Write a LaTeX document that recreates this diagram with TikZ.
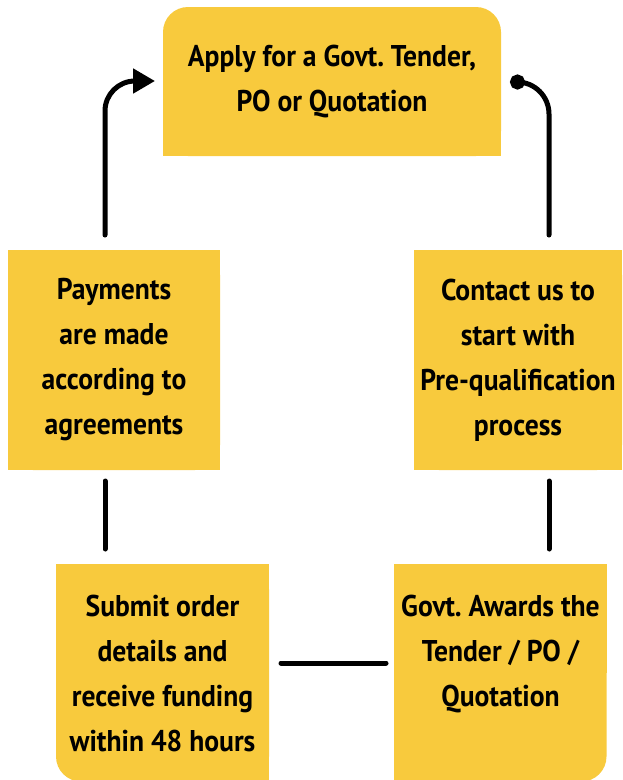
\documentclass[tikz,border=0pt]{standalone}
\usepackage{fontspec}
\setmainfont[FakeStretch=0.92]{PT Sans}
\usetikzlibrary{arrows.meta,backgrounds}
\definecolor{cardyellow}{HTML}{F8CA3D}
\frenchspacing

\tikzset{
	card/.style={fill=cardyellow, inner sep=0pt, align=center, rounded corners=25pt,
		font=\fontsize{30}{45}\selectfont\bfseries},
	link/.style={line width=5pt, line cap=round},
}

\begin{document}
\begin{tikzpicture}[x=1pt,y=-1pt]
	\useasboundingbox (0,0) rectangle (622,780);

	\node[card, minimum width=338pt, minimum height=149pt] (apply) at (332,81.5)
		{Apply for a Govt. Tender,\\PO or Quotation};
	\node[card, minimum width=212pt, minimum height=220pt] (pay) at (114,360)
		{Payments\\are made\\according to\\agreements};
	\node[card, minimum width=208pt, minimum height=220pt] (contact) at (518,360)
		{Contact us to\\start with\\Pre-qualification\\process};
	\node[card, minimum width=213pt, minimum height=217pt] (submit) at (162.5,673)
		{Submit order\\details and\\receive funding\\within 48 hours};
	\node[card, minimum width=212pt, minimum height=217pt] (award) at (500.5,673)
		{Govt. Awards the\\Tender / PO /\\Quotation\\~};

	% square off the corners that are not round
	\begin{scope}[on background layer]
		\fill[cardyellow] (apply.west) rectangle (apply.south east);
		\fill[cardyellow] (pay.north west) rectangle (pay.south east);
		\fill[cardyellow] (contact.north west) rectangle (contact.south east);
		\fill[cardyellow] (submit.north west) rectangle (submit.east);
		\fill[cardyellow] (submit.north) rectangle (submit.south east);
		\fill[cardyellow] (award.north west) rectangle (award.south);
		\fill[cardyellow] (award.north) rectangle (award.east);
	\end{scope}

	\coordinate (payup) at (105,235);
	\coordinate (applyin) at (155,81);
	\coordinate (contup) at (549,235);
	\coordinate (applyout) at (510,82);
	\coordinate (paydown) at (105,481);
	\coordinate (submitup) at (105,549);
	\coordinate (contdown) at (549,481);
	\coordinate (awardup) at (549,549);
	\coordinate (submitout) at (281,663);
	\coordinate (awardin) at (386,663);

	\draw[link, -{Triangle[length=22pt,width=24pt]}, rounded corners=30pt] (payup) |- (applyin);
	\draw[link, {Circle[length=15pt]}-, rounded corners=32pt] (applyout) -| (contup);
	\draw[link] (paydown) -- (submitup);
	\draw[link] (contdown) -- (awardup);
	\draw[link] (submitout) -- (awardin);
\end{tikzpicture}
\end{document}
